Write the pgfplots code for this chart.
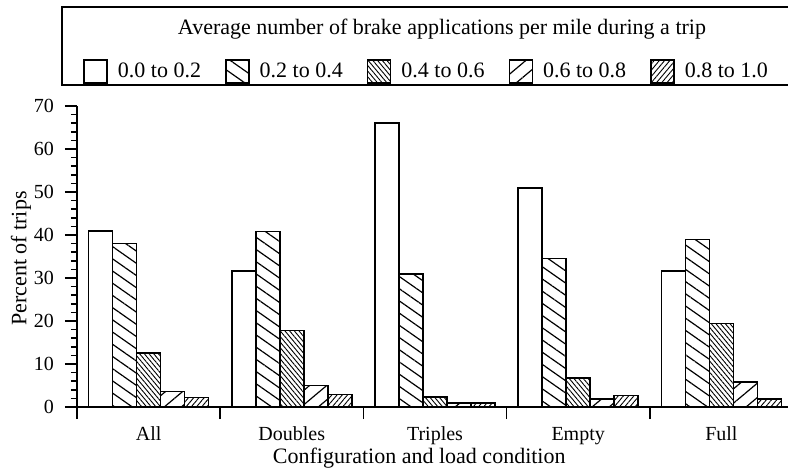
\documentclass[border=0pt]{standalone}
\usepackage{fontspec}
\setmainfont{Liberation Serif}
\usepackage{pgfplots}
\pgfplotsset{compat=1.18}
\usetikzlibrary{patterns.meta}
\begin{document}
\begin{tikzpicture}[font=\fontsize{11}{13}\selectfont]
\path[use as bounding box] (0,0) rectangle (394pt,236.5pt);
\begin{axis}[
  at={(38.5pt,33pt)}, anchor=south west,
  scale only axis, width=358pt, height=150.5pt,
  xmin=-0.5, xmax=4.5, ymin=0, ymax=70,
  axis x line*=bottom, axis y line*=left,
  axis line style={line width=0.8pt},
  ybar=0pt, bar width=12pt,
  xtick={-0.5,0.5,1.5,2.5,3.5,4.5}, xticklabels={},
  extra x ticks={0,1,2,3,4},
  extra x tick labels={All,Doubles,Triples,Empty,Full},
  extra x tick style={major tick length=0pt, tick label style={anchor=base, yshift=-16.5pt}},
  ytick={0,10,...,70}, minor y tick num=4,
  tick align=outside, major tick length=6pt, minor tick length=3pt,
  tick style={line width=0.8pt, black},
  tick label style={font=\fontsize{10}{12}\selectfont},
  yticklabel style={xshift=-2pt},
  /pgf/number format/assume math mode=true,
  xlabel={Configuration and load condition},
  ylabel={Percent of trips},
  every axis x label/.style={at={(axis description cs:0.478,0)}, anchor=base, yshift=-28pt},
  every axis y label/.style={at={(axis description cs:-0.0782,0.493)}, rotate=90, anchor=center},
  legend columns=5,
  legend style={at={(axis description cs:0.00838,1.1146)}, anchor=west, draw=none, fill=none,
    inner sep=0pt, nodes={inner sep=0pt},
    /tikz/every odd column/.append style={column sep=5pt},
    /tikz/every even column/.append style={column sep=12pt},
    font=\fontsize{11}{13}\selectfont},
  legend image code/.code={\draw[#1,line width=0.8pt] (0pt,-5.75pt) rectangle (11.5pt,5.75pt);},
  clip=false,
]
\addplot[draw=black, line width=0.8pt, fill=white]
  coordinates {(0,41.0) (1,31.6) (2,66.1) (3,51.0) (4,31.6)};
\addlegendentry{0.0 to 0.2}
\addplot[draw=black, line width=0.8pt, pattern={Lines[angle=-35,distance=5pt,line width=0.6pt]}]
  coordinates {(0,38.0) (1,40.8) (2,31.0) (3,34.5) (4,39.0)};
\addlegendentry{0.2 to 0.4}
\addplot[draw=black, line width=0.8pt, pattern={Lines[angle=-50,distance=1.8pt,line width=0.45pt]}]
  coordinates {(0,12.6) (1,17.8) (2,2.3) (3,6.8) (4,19.4)};
\addlegendentry{0.4 to 0.6}
\addplot[draw=black, line width=0.8pt, pattern={Lines[angle=40,distance=5.5pt,line width=0.6pt]}]
  coordinates {(0,3.6) (1,5.0) (2,0.9) (3,1.8) (4,5.8)};
\addlegendentry{0.6 to 0.8}
\addplot[draw=black, line width=0.8pt, pattern={Lines[angle=50,distance=2pt,line width=0.45pt]}]
  coordinates {(0,2.2) (1,2.9) (2,0.9) (3,2.7) (4,1.8)};
\addlegendentry{0.8 to 1.0}
\draw[line width=0.8pt] (axis cs:-0.5,0) -- ++(-6pt,0);
\end{axis}
\node[anchor=base] at (221pt,219.5pt) {Average number of brake applications per mile during a trip};
\draw[line width=0.9pt] (31pt,194pt) rectangle (400pt,233pt);
\end{tikzpicture}
\end{document}
